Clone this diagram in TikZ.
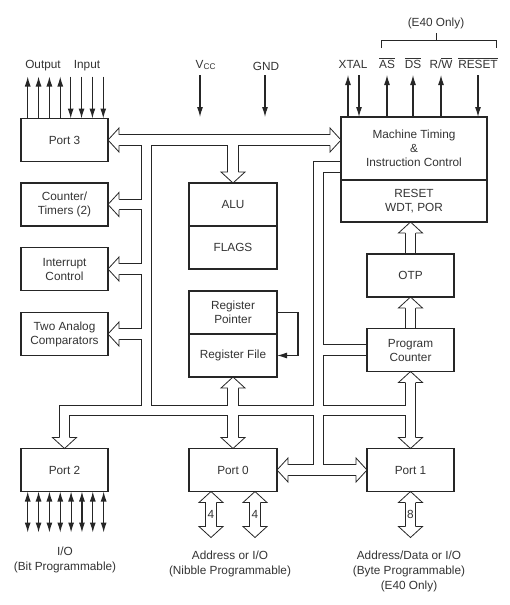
\documentclass[tikz,border=0pt]{standalone}
\usepackage{fontspec}
\setmainfont{Liberation Sans}
\usetikzlibrary{arrows.meta,positioning,calc,backgrounds}
\newcommand{\ovl}[1]{$\overline{\mbox{#1}}$}
% open bus arrow head: tip at #1, pointing to angle #2
\newcommand{\bushead}[2]{\filldraw[bushead, shift={#1}, rotate=#2] (-11,5.25) -- (-11,12) -- (0,0) -- (-11,-12) -- (-11,-5.25);}

\begin{document}
\begin{tikzpicture}[x=1pt, y=-1pt,
  blk/.style={draw=black!85, line width=1.8pt, outer sep=0pt, minimum width=87pt, minimum height=43pt,
    align=center, inner sep=1pt, text=black!80, font=\fontsize{11.8}{14}\selectfont},
  lbl/.style={inner sep=0pt, align=center, text=black!80, font=\fontsize{11.8}{15}\selectfont},
  sig/.style={draw=black!85, line width=1.1pt, -{Latex[length=10pt,width=6pt]}},
  io/.style={draw=black!85, line width=1.1pt, {Latex[length=10pt,width=6pt]}-{Latex[length=10pt,width=6pt]}},
  brk/.style={draw=black!85, line width=0.9pt},
  busout/.style={draw=black!85, line width=11.3pt},
  busin/.style={draw=white, line width=9.7pt},
  bushead/.style={fill=white, draw=black!85, line width=0.8pt},
]
\useasboundingbox (0,0) rectangle (509,605);

% Left column
\node[blk] (port3) at (64.5,140) {Port 3};
\node[blk] (ct) at (64.5,204.5) {Counter/\\Timers (2)};
\node[blk] (ic) at (64.5,269) {Interrupt\\Control};
\node[blk] (cmp) at (64.5,334) {Two Analog\\Comparators};

% Middle column
\node[blk, minimum width=88pt] (alu) at (233,204.5) {ALU};
\node[blk, minimum width=88pt, below=0pt of alu] (flags) {FLAGS};
\node[blk, minimum width=88pt] (rp) at (233,312.5) {Register\\Pointer};
\node[blk, minimum width=88pt, below=0pt of rp] (rf) {Register File};

% Right column
\node[blk, minimum width=146pt, minimum height=63pt] (mtc) at (414,148.5) {Machine Timing\\\&\\Instruction Control};
\node[blk, minimum width=146pt, minimum height=42pt, below=0pt of mtc] (rst) {RESET\\WDT, POR};
\node[blk] (otp) at (410.5,275.5) {OTP};
\node[blk] (pc) at (410.5,350) {Program\\Counter};

% Ports at the bottom
\node[blk] (port2) at (64.5,470) {Port 2};
\node[blk, minimum width=88pt] (port0) at (233,470) {Port 0};
\node[blk] (port1) at (410.5,470) {Port 1};

% Pin labels on top
\node[lbl, anchor=base] (outlbl) at (43,68) {Output};
\node[lbl, anchor=base] (inlbl) at (87,68) {Input};
\node[lbl, anchor=base west] (vcc) at (195.5,68) {V\textsubscript{CC}};
\node[lbl, anchor=base] (gnd) at (266,70) {GND};
\node[lbl, anchor=base] (xtal) at (353,68) {XTAL};
\node[lbl, anchor=base] (as) at (387,68) {\ovl{AS}};
\node[lbl, anchor=base] (ds) at (413,68) {\ovl{DS}};
\node[lbl, anchor=base] (rw) at (441,68) {R/\ovl{W}};
\node[lbl, anchor=base] (resetlbl) at (478,68) {\ovl{RESET}};
\node[lbl, anchor=base] (e40) at (436,26.5) {(E40 Only)};
\draw[brk] (381,48) -- (381,40) -- (496,40) -- (496,48) (436,40) -- (436,33);

% Labels below the ports
\node[lbl] (io2) at (65,559.5) {I/O\\(Bit Programmable)};
\node[lbl] (io0) at (230,563.5) {Address or I/O\\(Nibble Programmable)};
\node[lbl] (io1) at (409,571) {Address/Data or I/O\\(Byte Programmable)\\(E40 Only)};

% Named points for the buses
\coordinate (lv) at (146.5,0);
\coordinate (rv) at (318.5,0);
\coordinate (bot) at (0,410.5);
\coordinate (mtcin) at (port3.east -| mtc.west);
\coordinate (rstin) at (otp.north |- rst.south);
\coordinate (p0a) at ($(port0.south)+(-22,0)$);
\coordinate (p0b) at ($(port0.south)+(22,0)$);
\coordinate (p1a) at (port1.south);
\coordinate (vccend) at (200,117);
\coordinate (gndend) at (265,117);

% Buses (double lines), drawn under the boxes
\begin{scope}[on background layer]
  \draw[busin, preaction={busout}]
    ($(port3.east)+(10,0)$) -- ($(mtcin)+(-10,0)$)
    (port3.east -| alu.north) -- ($(alu.north)+(0,-10)$)
    (port3.east -| lv) -- (lv |- bot)
    (ct.east -| lv) -- ($(ct.east)+(10,0)$)
    (ic.east -| lv) -- ($(ic.east)+(10,0)$)
    (cmp.east -| lv) -- ($(cmp.east)+(10,0)$)
    ($(port2.north)+(0,-10)$) -- (port2.north |- bot) -- (port1.north |- bot)
    ($(pc.south)+(0,10)$) -- ($(port1.north)+(0,-10)$)
    ($(rf.south)+(0,10)$) -- ($(port0.north)+(0,-10)$)
    ($(mtc.south west)+(0,-13)$) -| (rv |- port0.east)
    (pc.west -| rv) -- (pc.west)
    ($(port0.east)+(10,0)$) -- ($(port1.west)+(-10,0)$)
    (otp.north) -- ($(rstin)+(0,10)$)
    (pc.north) -- ($(otp.south)+(0,10)$)
    ($(p0a)+(0,10)$) -- ($(p0a)+(0,36)$)
    ($(p0b)+(0,10)$) -- ($(p0b)+(0,36)$)
    ($(p1a)+(0,10)$) -- ($(p1a)+(0,36)$);
  % open arrow heads
  \bushead{(port3.east)}{180}
  \bushead{(mtcin)}{0}
  \bushead{(alu.north)}{-90}
  \bushead{(ct.east)}{180}
  \bushead{(ic.east)}{180}
  \bushead{(cmp.east)}{180}
  \bushead{(port2.north)}{-90}
  \bushead{(pc.south)}{90}
  \bushead{(port1.north)}{-90}
  \bushead{(rf.south)}{90}
  \bushead{(port0.north)}{-90}
  \bushead{(port0.east)}{180}
  \bushead{(port1.west)}{0}
  \bushead{(rstin)}{90}
  \bushead{(otp.south)}{90}
  \bushead{(p0a)}{90}
  \bushead{($(p0a)+(0,46)$)}{-90}
  \bushead{(p0b)}{90}
  \bushead{($(p0b)+(0,46)$)}{-90}
  \bushead{(p1a)}{90}
  \bushead{($(p1a)+(0,46)$)}{-90}
\end{scope}
\node[lbl] (w0a) at ($(p0a)+(0,23)$) {4};
\node[lbl] (w0b) at ($(p0b)+(0,23)$) {4};
\node[lbl] (w1a) at ($(p1a)+(0,23)$) {8};

% Single signal lines
\foreach \i in {0,...,3} {
  \draw[sig] ($(port3.north west)+(6.7+10.85*\i,0)$) -- ++(0,-42);
  \draw[sig] ($(port3.north west)+(49.7+10.85*\i,-42)$) -- ++(0,42);
}
\draw[sig] ($(vccend)+(0,-42)$) -- (vccend);
\draw[sig] ($(gndend)+(0,-42)$) -- (gndend);
\draw[sig] ($(mtc.north west)+(7,0)$) -- ++(0,-42);
\draw[sig] ($(mtc.north west)+(18,-42)$) -- ++(0,42);
\foreach \dx in {46,72,100}
  \draw[sig] ($(mtc.north west)+(\dx,0)$) -- ++(0,-42);
\draw[sig] ($(mtc.north west)+(137,-42)$) -- ++(0,42);
\draw[sig] (rp.east) -- ++(21,0) |- (rf.east);
\foreach \i in {0,...,7}
  \draw[io] ($(port2.south west)+(6.7+10.85*\i,0)$) -- ++(0,41);

\end{tikzpicture}
\end{document}
